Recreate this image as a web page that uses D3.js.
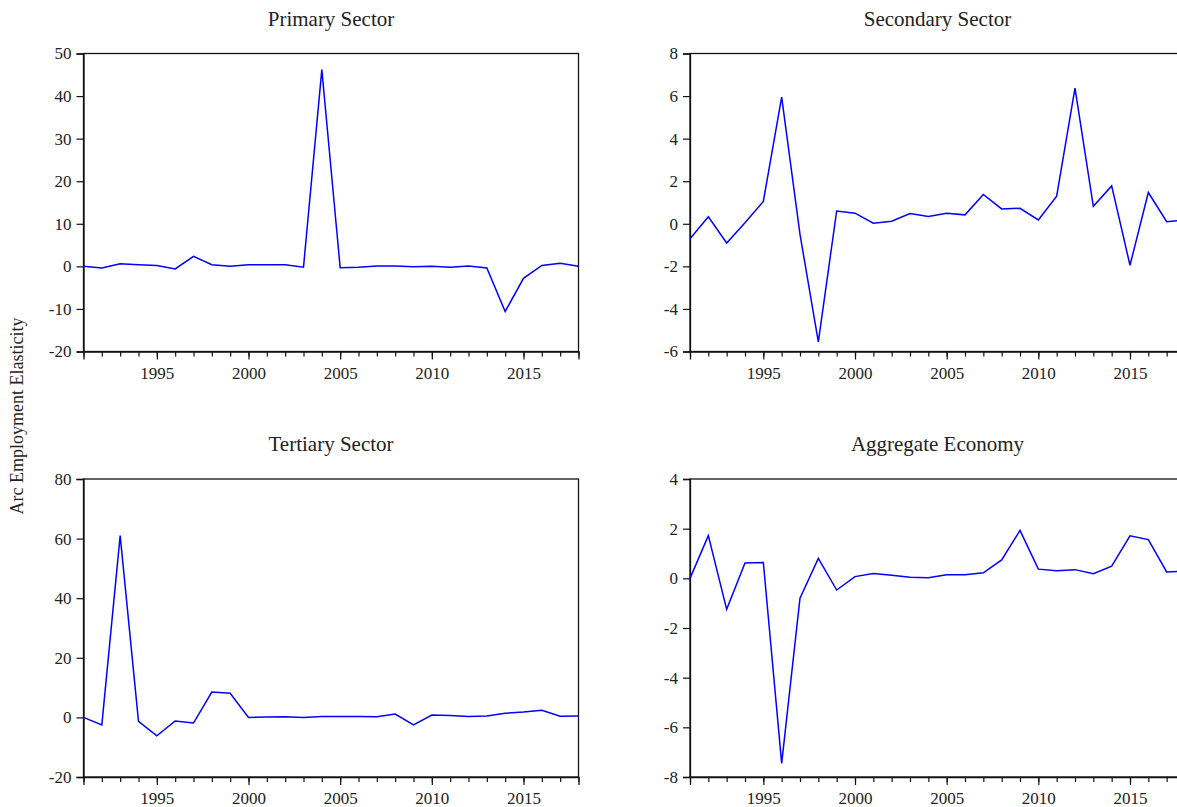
<!DOCTYPE html>
<html lang="en">
<head>
  <meta charset="UTF-8">
  <title>Arc Employment Elasticity</title>
  <style>
  body { margin: 0; background: #fff; }
  #paper { width: 1177px; height: 807px; overflow: hidden; }
  text { font-family: "Liberation Serif", serif; fill: #222; }
  </style>
</head>
<body>
  <div id="paper"></div>
  <script src="https://cdn.jsdelivr.net/npm/d3@7"></script>
  <script>
    // data
    const years = [1991, 1992, 1993, 1994, 1995, 1996, 1997, 1998, 1999, 2000,
      2001, 2002, 2003, 2004, 2005, 2006, 2007, 2008, 2009, 2010,
      2011, 2012, 2013, 2014, 2015, 2016, 2017, 2018];
    const primary = [0, -0.4, 0.6, 0.4, 0.2, -0.6, 2.35, 0.4, 0, 0.4,
      0.4, 0.4, -0.2, 46.2, -0.3, -0.2, 0.1, 0.1, -0.1, 0,
      -0.2, 0.1, -0.4, -10.6, -2.8, 0.2, 0.7, 0];
    const secondary = [-0.7, 0.33, -0.9, 0.05, 1.05, 5.95, -0.5, -5.55, 0.6, 0.5,
      0.03, 0.12, 0.48, 0.34, 0.5, 0.42, 1.38, 0.7, 0.73, 0.18,
      1.3, 6.37, 0.82, 1.78, -1.95, 1.47, 0.1, 0.18];
    const tertiary = [0, -2.5, 61, -1.3, -6.2, -1.2, -1.9, 8.5, 8.1, 0,
      0.1, 0.2, 0, 0.3, 0.3, 0.3, 0.2, 1.1, -2.5, 0.8,
      0.6, 0.3, 0.5, 1.4, 1.8, 2.4, 0.4, 0.5];
    const aggregate = [0, 1.72, -1.25, 0.62, 0.64, -7.45, -0.8, 0.8, -0.47, 0.07,
      0.19, 0.12, 0.04, 0.02, 0.14, 0.14, 0.22, 0.74, 1.93, 0.37,
      0.31, 0.35, 0.19, 0.49, 1.71, 1.56, 0.26, 0.29];

    const titles = ['Primary Sector', 'Secondary Sector', 'Tertiary Sector', 'Aggregate Economy'];
    const yDomains = [[-20, 50], [-6, 8], [-20, 80], [-8, 4]];
    const yTicks = [[-20, -10, 0, 10, 20, 30, 40, 50], [-6, -4, -2, 0, 2, 4, 6, 8],
      [-20, 0, 20, 40, 60, 80], [-8, -6, -4, -2, 0, 2, 4]];
    const xLabelTicks = [1995, 2000, 2005, 2010, 2015];
    const yLabel = 'Arc Employment Elasticity';

    const series = [primary, secondary, tertiary, aggregate];
    const lefts = [83.5, 690];
    const tops = [53.5, 479];
    const pw = 495, ph = 298;

    const svg = d3.select('#paper').append('svg')
      .attr('width', 1177)
      .attr('height', 807);

    series.forEach((vals, i) => {
      const col = i % 2, row = Math.floor(i / 2);
      const g = svg.append('g')
        .attr('transform', `translate(${lefts[col]},${tops[row]})`);

      const x = d3.scaleLinear().domain([1991, 2018]).range([0, pw]);
      const y = d3.scaleLinear().domain(yDomains[i]).range([ph, 0]);

      // frame
      g.append('rect')
        .attr('width', pw).attr('height', ph)
        .attr('fill', 'none').attr('stroke', '#111').attr('stroke-width', 1.3);

      // y axis
      const ya = g.append('g')
        .call(d3.axisLeft(y).tickValues(yTicks[i]).tickSize(7).tickPadding(5)
          .tickFormat(d => String(d)));
      ya.select('.domain').attr('stroke', '#111').attr('stroke-width', 1.3);
      ya.selectAll('.tick line').attr('stroke', '#111').attr('stroke-width', 1.2);
      ya.selectAll('text').style('font-size', '17px').attr('fill', '#222');

      // x axis minor ticks (every year)
      const xm = g.append('g')
        .attr('transform', `translate(0,${ph})`)
        .call(d3.axisBottom(x).tickValues(years).tickSize(5).tickFormat(''));
      xm.select('.domain').remove();
      xm.selectAll('.tick line').attr('stroke', '#111').attr('stroke-width', 1.2);

      // x axis major ticks with labels
      const xa = g.append('g')
        .attr('transform', `translate(0,${ph})`)
        .call(d3.axisBottom(x).tickValues(xLabelTicks).tickSize(8).tickPadding(7)
          .tickFormat(d3.format('d')));
      xa.select('.domain').attr('stroke', '#111').attr('stroke-width', 1.3);
      xa.selectAll('.tick line').attr('stroke', '#111').attr('stroke-width', 1.2);
      xa.selectAll('text').style('font-size', '17px').attr('fill', '#222');

      // line
      const line = d3.line()
        .x((d, j) => x(years[j]))
        .y(d => y(d));
      g.append('path')
        .datum(vals)
        .attr('d', line)
        .attr('fill', 'none')
        .attr('stroke', '#0000ff')
        .attr('stroke-width', 1.5)
        .attr('stroke-linejoin', 'miter');

      // title
      g.append('text')
        .attr('x', pw / 2)
        .attr('y', -28)
        .attr('text-anchor', 'middle')
        .style('font-size', '21px')
        .text(titles[i]);
    });

    svg.append('text')
      .attr('transform', 'translate(23,416) rotate(-90)')
      .attr('text-anchor', 'middle')
      .style('font-size', '18px')
      .text(yLabel);
  </script>
</body>
</html>
